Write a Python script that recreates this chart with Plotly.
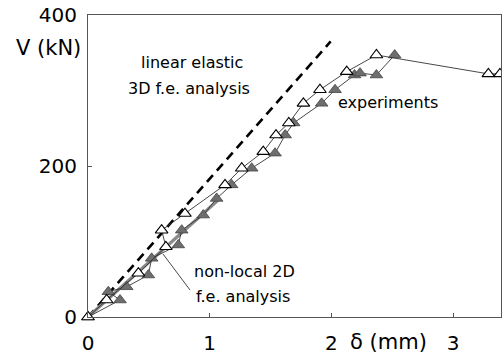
import plotly.graph_objects as go

# ---- data ----
elastic_d = [0.0, 1.994]
elastic_v = [0.0, 365.0]

nonlocal_d = [0.0, 0.55, 1.07]
nonlocal_v = [0.0, 80.0, 155.0]

expA_d = [0.0, 0.153, 0.414, 0.64, 0.605, 0.797, 1.126, 1.263, 1.44, 1.545,
          1.65, 1.77, 1.906, 2.126, 2.37, 3.29, 3.385]
expA_v = [0.0, 22.5, 58.0, 93.0, 115.0, 137.0, 175.0, 197.0, 219.0, 241.0,
          257.0, 283.0, 301.0, 325.0, 347.0, 322.0, 322.0]

expB_d = [0.0, 0.263, 0.167, 0.318, 0.496, 0.523, 0.742, 0.77, 0.947, 1.057,
          1.18, 1.345, 1.537, 1.62, 1.69, 1.92, 2.03, 2.19, 2.235, 2.37, 2.52]
expB_v = [0.0, 22.5, 33.5, 40.0, 55.6, 77.7, 95.4, 115.0, 135.0, 157.0,
          175.0, 197.0, 217.0, 241.0, 257.0, 283.0, 301.0, 320.5, 323.0, 320.5, 347.0]

x_ticks = [0, 1, 2, 3]
x_ticktext = ["0", "1", "2", "3"]
y_ticks = [0, 200, 400]
y_ticktext = ["0", "200", "400"]

FONT = "DejaVu Sans"

fig = go.Figure()

fig.add_trace(go.Scatter(x=elastic_d, y=elastic_v, mode="lines",
                         line=dict(color="black", width=2.6, dash="9px,6px"),
                         showlegend=False, hoverinfo="skip"))
fig.add_trace(go.Scatter(x=nonlocal_d, y=nonlocal_v, mode="lines",
                         line=dict(color="#8a8a8a", width=3.2),
                         showlegend=False, hoverinfo="skip"))
fig.add_trace(go.Scatter(x=expB_d, y=expB_v, mode="lines+markers",
                         line=dict(color="#333333", width=0.9),
                         marker=dict(symbol="triangle-up", size=11, color="#6e6e6e",
                                     line=dict(color="#444444", width=0.8)),
                         cliponaxis=False, showlegend=False))
fig.add_trace(go.Scatter(x=expA_d, y=expA_v, mode="lines+markers",
                         line=dict(color="#333333", width=0.9),
                         marker=dict(symbol="triangle-up", size=11, color="white",
                                     line=dict(color="black", width=1.1)),
                         cliponaxis=False, showlegend=False))

annots = [
    dict(text="linear elastic", x=192, y=62),
    dict(text="3D f.e. analysis", x=189, y=88),
    dict(text="experiments", x=388, y=103),
    dict(text="non-local 2D", x=244, y=271),
    dict(text="f.e. analysis", x=243, y=296),
]
W, H = 502, 357
L, R, T, B = 88, 1, 15, 40
pw, ph = W - L - R, H - T - B
for a in annots:
    fig.add_annotation(text=a["text"], xref="paper", yref="paper",
                       x=(a["x"] - L) / pw, y=1 - (a["y"] - T) / ph,
                       showarrow=False, xanchor="center", yanchor="middle",
                       font=dict(family=FONT, size=16, color="black"))

# pointer line for non-local label
fig.add_shape(type="line", xref="paper", yref="paper",
              x0=(190 - L) / pw, y0=1 - (290 - T) / ph,
              x1=(163 - L) / pw, y1=1 - (254 - T) / ph,
              line=dict(color="#333333", width=0.9))

fig.add_annotation(text="V (kN)", xref="paper", yref="paper",
                   x=(83 - L) / pw, y=1 - (48 - T) / ph, xanchor="right", yanchor="middle",
                   showarrow=False, font=dict(family=FONT, size=21, color="black"))
fig.add_annotation(text="δ (mm)", xref="paper", yref="paper",
                   x=(388 - L) / pw, y=1 - (342 - T) / ph, xanchor="center", yanchor="middle",
                   showarrow=False, font=dict(family=FONT, size=21, color="black"))

fig.update_layout(
    width=W, height=H,
    margin=dict(l=L, r=R, t=T, b=B, pad=0),
    paper_bgcolor="white", plot_bgcolor="white",
    xaxis=dict(range=[0, pw / 121.7], tickvals=x_ticks, ticktext=x_ticktext,
               showgrid=False, zeroline=False, showline=True, linecolor="#555555",
               linewidth=1, mirror=True, ticks="inside", ticklen=4, tickcolor="#555555",
               tickfont=dict(family=FONT, size=20, color="black"), ticklabelstandoff=8),
    yaxis=dict(range=[0, 400], tickvals=y_ticks, ticktext=y_ticktext,
               showgrid=False, zeroline=False, showline=True, linecolor="#555555",
               linewidth=1, mirror=True, ticks="inside", ticklen=4, tickcolor="#555555",
               tickfont=dict(family=FONT, size=20, color="black"), ticklabelstandoff=6),
)

fig.write_html("out.html", config={"displayModeBar": False},
               post_script="document.body.style.margin='0';")
